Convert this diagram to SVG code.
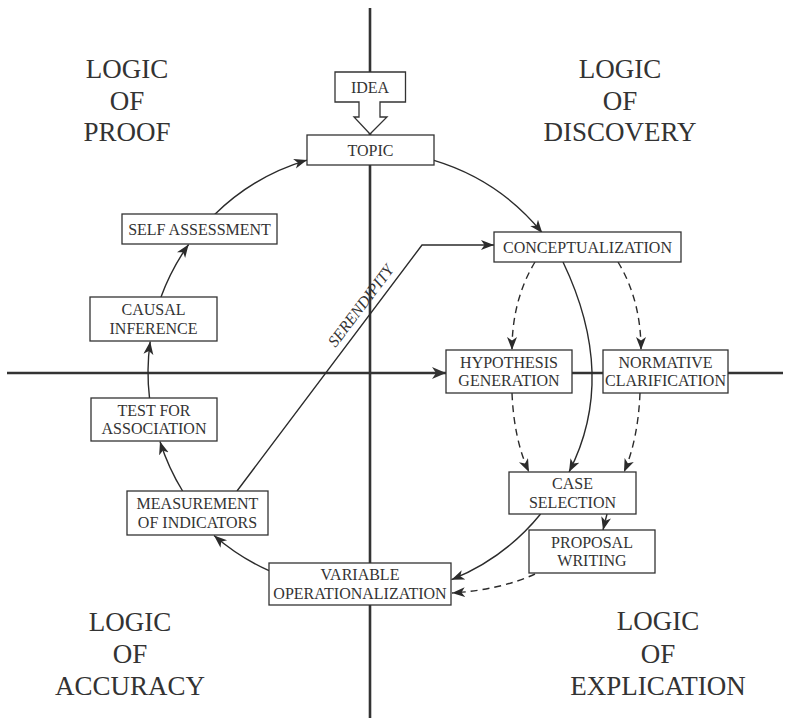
<svg xmlns="http://www.w3.org/2000/svg" width="791" height="719" viewBox="0 0 791 719">
<style>
.box{fill:#fff;stroke:#333;stroke-width:1.3}
.t{font-family:"Liberation Serif","Times New Roman",serif;font-size:16px;fill:#333;text-anchor:middle}
.q{font-family:"Liberation Serif","Times New Roman",serif;font-size:27px;fill:#333;text-anchor:middle}
.axis{stroke:#333;stroke-width:2.6;fill:none}
.c{stroke:#2b2b2b;stroke-width:1.4;fill:none}
.d{stroke:#2b2b2b;stroke-width:1.4;fill:none;stroke-dasharray:7,5}
.arr{marker-end:url(#ah)}
</style>
<defs>
<marker id="ah" markerUnits="userSpaceOnUse" markerWidth="14" markerHeight="11" refX="13" refY="5" orient="auto">
<path d="M0,0 L13,5 L0,10 L3.5,5 z" fill="#2b2b2b"/>
</marker>
</defs>
<rect width="791" height="719" fill="#fff"/>
<g id="axes">
<line class="axis" x1="370" y1="8" x2="370" y2="718"/>
<line class="axis" x1="7" y1="373" x2="783" y2="373"/>
<path d="M446,373 L432,367 L436,373 L432,379 z" fill="#333"/>
</g>
<g id="quadrant-labels">
<text class="q" x="127" y="78">LOGIC</text>
<text class="q" x="127" y="110">OF</text>
<text class="q" x="127" y="141">PROOF</text>
<text class="q" x="620" y="78">LOGIC</text>
<text class="q" x="620" y="110">OF</text>
<text class="q" x="620" y="141">DISCOVERY</text>
<text class="q" x="130" y="631">LOGIC</text>
<text class="q" x="130" y="663">OF</text>
<text class="q" x="130" y="695">ACCURACY</text>
<text class="q" x="658" y="630">LOGIC</text>
<text class="q" x="658" y="663">OF</text>
<text class="q" x="658" y="695">EXPLICATION</text>
</g>
<g id="connectors">
<path class="c arr" d="M434,160.4 A222,222 0 0 1 542.3,233"/>
<path class="c arr" d="M214.1,215 A222,222 0 0 1 307,160.1"/>
<path class="c arr" d="M161,297 A222,222 0 0 1 188.6,244.5"/>
<path class="c arr" d="M149.5,398 A222,222 0 0 1 150.2,341.5"/>
<path class="c arr" d="M182.6,491 A222,222 0 0 1 160,441.5"/>
<path class="c arr" d="M269,570.7 A222,222 0 0 1 214,535.5"/>
<path class="c arr" d="M540.6,514 A222,222 0 0 1 451.5,579.7"/>
<path class="c arr" d="M563,262 Q618,377 569,472"/>
<path class="d arr" d="M535,262 Q512,300 512,350"/>
<path class="d arr" d="M618,262 Q641,300 641,350"/>
<path class="d arr" d="M512,393 Q514,440 529,472"/>
<path class="d arr" d="M640,393 Q638,440 624,472"/>
<path class="d arr" d="M607,514 L603,530"/>
<path class="d arr" d="M535,574 Q500,590 452,593"/>
<path class="c arr" d="M237,491 L422,245 L494,245"/>
<text x="365" y="309" transform="rotate(-53 365 309)" style="font-family:'Liberation Serif','Times New Roman',serif;font-size:16px;font-style:italic;fill:#333;text-anchor:middle">SERENDIPITY</text>
</g>
<g id="idea">
<path class="box" d="M335,72 L405.5,72 L405.5,102 L380,102 L380,117 L387,117 L370,134 L354,117 L359,117 L359,102 L335,102 z"/>
<text class="t" x="370" y="92.5">IDEA</text>
</g>
<g id="topic">
<rect class="box" x="307" y="135" width="127" height="30"/>
<text class="t" x="370.5" y="155.5">TOPIC</text>
</g>
<g id="self-assessment">
<rect class="box" x="122" y="214" width="155" height="30"/>
<text class="t" x="199.5" y="234.5">SELF ASSESSMENT</text>
</g>
<g id="causal-inference">
<rect class="box" x="90" y="297" width="127" height="44"/>
<text class="t" x="153.5" y="315">CAUSAL</text>
<text class="t" x="153.5" y="333.5">INFERENCE</text>
</g>
<g id="test-for-association">
<rect class="box" x="91" y="398" width="126" height="43"/>
<text class="t" x="154" y="415.5">TEST FOR</text>
<text class="t" x="154" y="434">ASSOCIATION</text>
</g>
<g id="measurement">
<rect class="box" x="127" y="491" width="141" height="44"/>
<text class="t" x="197.5" y="509">MEASUREMENT</text>
<text class="t" x="197.5" y="527.5">OF INDICATORS</text>
</g>
<g id="variable-operationalization">
<rect class="box" x="269" y="563" width="182" height="42"/>
<text class="t" x="360" y="580">VARIABLE</text>
<text class="t" x="360" y="598.5">OPERATIONALIZATION</text>
</g>
<g id="conceptualization">
<rect class="box" x="494" y="232" width="187" height="30"/>
<text class="t" x="587.5" y="252.5">CONCEPTUALIZATION</text>
</g>
<g id="hypothesis-generation">
<rect class="box" x="446" y="350" width="126" height="43"/>
<text class="t" x="509" y="367.5">HYPOTHESIS</text>
<text class="t" x="509" y="386">GENERATION</text>
</g>
<g id="normative-clarification">
<rect class="box" x="603" y="350" width="125" height="43"/>
<text class="t" x="665.5" y="367.5">NORMATIVE</text>
<text class="t" x="665.5" y="386">CLARIFICATION</text>
</g>
<g id="case-selection">
<rect class="box" x="509" y="472" width="127" height="42"/>
<text class="t" x="572.5" y="489">CASE</text>
<text class="t" x="572.5" y="507.5">SELECTION</text>
</g>
<g id="proposal-writing">
<rect class="box" x="529" y="530" width="126" height="43"/>
<text class="t" x="592" y="547.5">PROPOSAL</text>
<text class="t" x="592" y="566">WRITING</text>
</g>
</svg>
